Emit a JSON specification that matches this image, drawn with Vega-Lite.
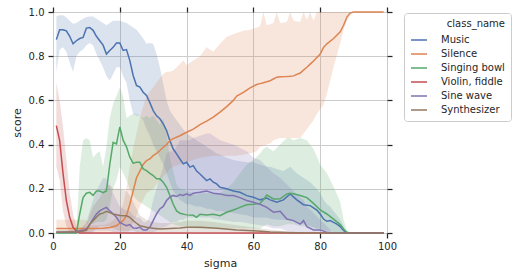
{
"$schema": "https://vega.github.io/schema/vega-lite/v6.json",
"width": 334, "height": 221,
"autosize": {"type": "none"},
"padding": {"left": 53, "top": 12, "right": 134, "bottom": 45},
"config": {
 "font": "DejaVu Sans",
 "view": {"stroke": "#cccccc", "strokeWidth": 1},
 "axis": {"grid": true, "gridColor": "#cccccc", "gridWidth": 1, "domain": false, "tickColor": "#262626", "tickSize": 5, "tickWidth": 1.25, "labelColor": "#262626", "labelFontSize": 10, "labelFont": "DejaVu Sans", "titleFont": "DejaVu Sans", "titleFontSize": 11, "titleColor": "#262626", "titleFontWeight": "normal", "labelPadding": 3, "titlePadding": 6, "labelFlush": false},
 "legend": {"orient": "none", "legendX": 351, "legendY": 1, "fillColor": "white", "strokeColor": "#cccccc", "padding": 6, "cornerRadius": 3, "titleFontSize": 10, "titleFontWeight": "normal", "titleColor": "#262626", "titleAnchor": "end", "labelFontSize": 10, "labelColor": "#262626", "symbolType": "stroke", "symbolStrokeWidth": 1.5, "symbolSize": 256, "labelOffset": 13, "rowPadding": 0, "titlePadding": 2, "symbolOpacity": 1}
},
"data": {"values": [
{"c":"Music","x":1,"y":0.875,"lo":0.73,"hi":0.98},
{"c":"Music","x":2,"y":0.92,"lo":0.83,"hi":0.985},
{"c":"Music","x":3,"y":0.92,"lo":0.84,"hi":0.985},
{"c":"Music","x":4,"y":0.915,"lo":0.82,"hi":0.975},
{"c":"Music","x":5,"y":0.89,"lo":0.77,"hi":0.96},
{"c":"Music","x":6,"y":0.856,"lo":0.73,"hi":0.947},
{"c":"Music","x":7,"y":0.87,"lo":0.8,"hi":0.95},
{"c":"Music","x":8,"y":0.88,"lo":0.82,"hi":0.96},
{"c":"Music","x":9,"y":0.885,"lo":0.83,"hi":0.97},
{"c":"Music","x":10,"y":0.927,"lo":0.85,"hi":0.977},
{"c":"Music","x":11,"y":0.93,"lo":0.86,"hi":0.98},
{"c":"Music","x":12,"y":0.917,"lo":0.85,"hi":0.98},
{"c":"Music","x":13,"y":0.89,"lo":0.81,"hi":0.97},
{"c":"Music","x":14,"y":0.87,"lo":0.78,"hi":0.96},
{"c":"Music","x":15,"y":0.85,"lo":0.75,"hi":0.95},
{"c":"Music","x":16,"y":0.81,"lo":0.71,"hi":0.94},
{"c":"Music","x":17,"y":0.826,"lo":0.69,"hi":0.95},
{"c":"Music","x":18,"y":0.84,"lo":0.72,"hi":0.96},
{"c":"Music","x":19,"y":0.86,"lo":0.75,"hi":0.96},
{"c":"Music","x":20,"y":0.86,"lo":0.75,"hi":0.96},
{"c":"Music","x":21,"y":0.826,"lo":0.71,"hi":0.955},
{"c":"Music","x":22,"y":0.83,"lo":0.68,"hi":0.95},
{"c":"Music","x":23,"y":0.78,"lo":0.6,"hi":0.94},
{"c":"Music","x":24,"y":0.713,"lo":0.54,"hi":0.93},
{"c":"Music","x":25,"y":0.668,"lo":0.53,"hi":0.92},
{"c":"Music","x":26,"y":0.66,"lo":0.53,"hi":0.9},
{"c":"Music","x":27,"y":0.637,"lo":0.51,"hi":0.88},
{"c":"Music","x":28,"y":0.622,"lo":0.47,"hi":0.856},
{"c":"Music","x":29,"y":0.59,"lo":0.44,"hi":0.86},
{"c":"Music","x":30,"y":0.554,"lo":0.4,"hi":0.856},
{"c":"Music","x":31,"y":0.53,"lo":0.37,"hi":0.81},
{"c":"Music","x":32,"y":0.517,"lo":0.34,"hi":0.75},
{"c":"Music","x":33,"y":0.494,"lo":0.31,"hi":0.675},
{"c":"Music","x":34,"y":0.464,"lo":0.27,"hi":0.6},
{"c":"Music","x":35,"y":0.418,"lo":0.23,"hi":0.554},
{"c":"Music","x":36,"y":0.38,"lo":0.19,"hi":0.53},
{"c":"Music","x":37,"y":0.358,"lo":0.17,"hi":0.51},
{"c":"Music","x":38,"y":0.335,"lo":0.15,"hi":0.49},
{"c":"Music","x":39,"y":0.313,"lo":0.14,"hi":0.47},
{"c":"Music","x":40,"y":0.32,"lo":0.13,"hi":0.45},
{"c":"Music","x":41,"y":0.298,"lo":0.13,"hi":0.44},
{"c":"Music","x":42,"y":0.305,"lo":0.125,"hi":0.43},
{"c":"Music","x":43,"y":0.28,"lo":0.12,"hi":0.42},
{"c":"Music","x":44,"y":0.267,"lo":0.12,"hi":0.41},
{"c":"Music","x":45,"y":0.252,"lo":0.115,"hi":0.4},
{"c":"Music","x":46,"y":0.237,"lo":0.11,"hi":0.39},
{"c":"Music","x":47,"y":0.245,"lo":0.11,"hi":0.38},
{"c":"Music","x":48,"y":0.23,"lo":0.105,"hi":0.37},
{"c":"Music","x":49,"y":0.222,"lo":0.1,"hi":0.36},
{"c":"Music","x":50,"y":0.207,"lo":0.1,"hi":0.355},
{"c":"Music","x":52,"y":0.2,"lo":0.095,"hi":0.34},
{"c":"Music","x":54,"y":0.19,"lo":0.09,"hi":0.33},
{"c":"Music","x":56,"y":0.184,"lo":0.085,"hi":0.325},
{"c":"Music","x":58,"y":0.169,"lo":0.08,"hi":0.32},
{"c":"Music","x":60,"y":0.162,"lo":0.07,"hi":0.32},
{"c":"Music","x":62,"y":0.15,"lo":0.07,"hi":0.31},
{"c":"Music","x":64,"y":0.158,"lo":0.07,"hi":0.3},
{"c":"Music","x":65,"y":0.15,"lo":0.065,"hi":0.3},
{"c":"Music","x":67,"y":0.139,"lo":0.06,"hi":0.29},
{"c":"Music","x":69,"y":0.15,"lo":0.06,"hi":0.28},
{"c":"Music","x":71,"y":0.177,"lo":0.06,"hi":0.3},
{"c":"Music","x":73,"y":0.15,"lo":0.05,"hi":0.27},
{"c":"Music","x":75,"y":0.128,"lo":0.04,"hi":0.25},
{"c":"Music","x":77,"y":0.124,"lo":0.03,"hi":0.23},
{"c":"Music","x":79,"y":0.104,"lo":0.02,"hi":0.2},
{"c":"Music","x":80,"y":0.086,"lo":0.02,"hi":0.18},
{"c":"Music","x":81,"y":0.063,"lo":0.01,"hi":0.15},
{"c":"Music","x":82,"y":0.053,"lo":0.01,"hi":0.13},
{"c":"Music","x":83,"y":0.056,"lo":0.01,"hi":0.12},
{"c":"Music","x":84,"y":0.048,"lo":0.005,"hi":0.1},
{"c":"Music","x":85,"y":0.04,"lo":0,"hi":0.08},
{"c":"Music","x":86,"y":0.029,"lo":0,"hi":0.06},
{"c":"Music","x":87,"y":0.011,"lo":0,"hi":0.03},
{"c":"Music","x":88,"y":0,"lo":0,"hi":0},
{"c":"Music","x":99,"y":0,"lo":0,"hi":0},
{"c":"Silence","x":1,"y":0.02,"lo":0,"hi":0.06},
{"c":"Silence","x":10,"y":0.02,"lo":0,"hi":0.06},
{"c":"Silence","x":11,"y":0.02,"lo":0,"hi":0.035},
{"c":"Silence","x":15,"y":0.021,"lo":0,"hi":0.035},
{"c":"Silence","x":17,"y":0.025,"lo":0,"hi":0.045},
{"c":"Silence","x":19,"y":0.033,"lo":0,"hi":0.07},
{"c":"Silence","x":20,"y":0.044,"lo":0,"hi":0.09},
{"c":"Silence","x":21,"y":0.056,"lo":0,"hi":0.13},
{"c":"Silence","x":22,"y":0.079,"lo":0,"hi":0.2},
{"c":"Silence","x":23,"y":0.13,"lo":0.01,"hi":0.3},
{"c":"Silence","x":24,"y":0.19,"lo":0.05,"hi":0.38},
{"c":"Silence","x":25,"y":0.25,"lo":0.08,"hi":0.45},
{"c":"Silence","x":26,"y":0.28,"lo":0.12,"hi":0.52},
{"c":"Silence","x":27,"y":0.31,"lo":0.15,"hi":0.57},
{"c":"Silence","x":28,"y":0.328,"lo":0.18,"hi":0.62},
{"c":"Silence","x":29,"y":0.335,"lo":0.19,"hi":0.64},
{"c":"Silence","x":30,"y":0.35,"lo":0.2,"hi":0.66},
{"c":"Silence","x":31,"y":0.36,"lo":0.22,"hi":0.68},
{"c":"Silence","x":32,"y":0.373,"lo":0.24,"hi":0.7},
{"c":"Silence","x":33,"y":0.388,"lo":0.255,"hi":0.72},
{"c":"Silence","x":34,"y":0.4,"lo":0.27,"hi":0.73},
{"c":"Silence","x":35,"y":0.418,"lo":0.29,"hi":0.73},
{"c":"Silence","x":36,"y":0.427,"lo":0.3,"hi":0.735},
{"c":"Silence","x":38,"y":0.44,"lo":0.31,"hi":0.765},
{"c":"Silence","x":39,"y":0.448,"lo":0.315,"hi":0.78},
{"c":"Silence","x":40,"y":0.456,"lo":0.32,"hi":0.76},
{"c":"Silence","x":42,"y":0.47,"lo":0.33,"hi":0.78},
{"c":"Silence","x":44,"y":0.49,"lo":0.34,"hi":0.8},
{"c":"Silence","x":46,"y":0.506,"lo":0.345,"hi":0.84},
{"c":"Silence","x":48,"y":0.524,"lo":0.35,"hi":0.82},
{"c":"Silence","x":50,"y":0.547,"lo":0.35,"hi":0.856},
{"c":"Silence","x":52,"y":0.572,"lo":0.35,"hi":0.887},
{"c":"Silence","x":54,"y":0.6,"lo":0.35,"hi":0.9},
{"c":"Silence","x":55,"y":0.62,"lo":0.35,"hi":0.905},
{"c":"Silence","x":57,"y":0.636,"lo":0.355,"hi":0.915},
{"c":"Silence","x":59,"y":0.657,"lo":0.36,"hi":0.92},
{"c":"Silence","x":61,"y":0.672,"lo":0.37,"hi":0.93},
{"c":"Silence","x":62,"y":0.676,"lo":0.39,"hi":0.936},
{"c":"Silence","x":63,"y":0.68,"lo":0.395,"hi":1.0},
{"c":"Silence","x":64,"y":0.684,"lo":0.4,"hi":0.94},
{"c":"Silence","x":65,"y":0.689,"lo":0.405,"hi":0.945},
{"c":"Silence","x":66,"y":0.697,"lo":0.42,"hi":0.95},
{"c":"Silence","x":67,"y":0.705,"lo":0.425,"hi":1.0},
{"c":"Silence","x":68,"y":0.707,"lo":0.43,"hi":0.95},
{"c":"Silence","x":70,"y":0.708,"lo":0.43,"hi":0.955},
{"c":"Silence","x":71,"y":0.709,"lo":0.43,"hi":1.0},
{"c":"Silence","x":72,"y":0.711,"lo":0.43,"hi":0.96},
{"c":"Silence","x":74,"y":0.724,"lo":0.43,"hi":0.955},
{"c":"Silence","x":75,"y":0.737,"lo":0.45,"hi":1.0},
{"c":"Silence","x":76,"y":0.75,"lo":0.47,"hi":0.965},
{"c":"Silence","x":77,"y":0.764,"lo":0.49,"hi":1.0},
{"c":"Silence","x":78,"y":0.778,"lo":0.51,"hi":0.96},
{"c":"Silence","x":79,"y":0.794,"lo":0.54,"hi":1.0},
{"c":"Silence","x":80,"y":0.81,"lo":0.56,"hi":1.0},
{"c":"Silence","x":81,"y":0.84,"lo":0.58,"hi":1.0},
{"c":"Silence","x":82,"y":0.856,"lo":0.63,"hi":1.0},
{"c":"Silence","x":84,"y":0.88,"lo":0.75,"hi":1.0},
{"c":"Silence","x":86,"y":0.91,"lo":0.86,"hi":1.0},
{"c":"Silence","x":87,"y":0.94,"lo":0.92,"hi":1.0},
{"c":"Silence","x":88,"y":0.977,"lo":0.96,"hi":1.0},
{"c":"Silence","x":89,"y":0.995,"lo":0.99,"hi":1.0},
{"c":"Silence","x":90,"y":1,"lo":1,"hi":1},
{"c":"Silence","x":99,"y":1,"lo":1,"hi":1},
{"c":"Singing bowl","x":1,"y":0,"lo":0,"hi":0},
{"c":"Singing bowl","x":7,"y":0,"lo":0,"hi":0},
{"c":"Singing bowl","x":8,"y":0.086,"lo":0,"hi":0.3},
{"c":"Singing bowl","x":9,"y":0.16,"lo":0.02,"hi":0.42},
{"c":"Singing bowl","x":10,"y":0.18,"lo":0.04,"hi":0.43},
{"c":"Singing bowl","x":11,"y":0.184,"lo":0.05,"hi":0.42},
{"c":"Singing bowl","x":12,"y":0.17,"lo":0.04,"hi":0.34},
{"c":"Singing bowl","x":13,"y":0.19,"lo":0.05,"hi":0.36},
{"c":"Singing bowl","x":14,"y":0.19,"lo":0.05,"hi":0.37},
{"c":"Singing bowl","x":15,"y":0.183,"lo":0.05,"hi":0.3},
{"c":"Singing bowl","x":16,"y":0.19,"lo":0.06,"hi":0.39},
{"c":"Singing bowl","x":17,"y":0.31,"lo":0.12,"hi":0.52},
{"c":"Singing bowl","x":18,"y":0.41,"lo":0.2,"hi":0.585},
{"c":"Singing bowl","x":19,"y":0.403,"lo":0.24,"hi":0.62},
{"c":"Singing bowl","x":20,"y":0.48,"lo":0.3,"hi":0.66},
{"c":"Singing bowl","x":21,"y":0.42,"lo":0.27,"hi":0.615},
{"c":"Singing bowl","x":22,"y":0.39,"lo":0.24,"hi":0.52},
{"c":"Singing bowl","x":23,"y":0.343,"lo":0.2,"hi":0.53},
{"c":"Singing bowl","x":24,"y":0.316,"lo":0.17,"hi":0.54},
{"c":"Singing bowl","x":25,"y":0.32,"lo":0.15,"hi":0.54},
{"c":"Singing bowl","x":26,"y":0.32,"lo":0.14,"hi":0.53},
{"c":"Singing bowl","x":27,"y":0.29,"lo":0.13,"hi":0.52},
{"c":"Singing bowl","x":28,"y":0.282,"lo":0.12,"hi":0.53},
{"c":"Singing bowl","x":29,"y":0.27,"lo":0.11,"hi":0.52},
{"c":"Singing bowl","x":30,"y":0.26,"lo":0.1,"hi":0.53},
{"c":"Singing bowl","x":31,"y":0.245,"lo":0.09,"hi":0.51},
{"c":"Singing bowl","x":32,"y":0.245,"lo":0.08,"hi":0.49},
{"c":"Singing bowl","x":33,"y":0.23,"lo":0.07,"hi":0.517},
{"c":"Singing bowl","x":34,"y":0.207,"lo":0.06,"hi":0.45},
{"c":"Singing bowl","x":35,"y":0.17,"lo":0.05,"hi":0.34},
{"c":"Singing bowl","x":36,"y":0.13,"lo":0.04,"hi":0.28},
{"c":"Singing bowl","x":37,"y":0.1,"lo":0.035,"hi":0.22},
{"c":"Singing bowl","x":38,"y":0.089,"lo":0.03,"hi":0.2},
{"c":"Singing bowl","x":40,"y":0.082,"lo":0.03,"hi":0.19},
{"c":"Singing bowl","x":42,"y":0.08,"lo":0.025,"hi":0.18},
{"c":"Singing bowl","x":43,"y":0.071,"lo":0.02,"hi":0.17},
{"c":"Singing bowl","x":44,"y":0.085,"lo":0.02,"hi":0.18},
{"c":"Singing bowl","x":46,"y":0.082,"lo":0.02,"hi":0.18},
{"c":"Singing bowl","x":48,"y":0.085,"lo":0.02,"hi":0.18},
{"c":"Singing bowl","x":50,"y":0.078,"lo":0.02,"hi":0.18},
{"c":"Singing bowl","x":52,"y":0.094,"lo":0.02,"hi":0.2},
{"c":"Singing bowl","x":54,"y":0.104,"lo":0.02,"hi":0.23},
{"c":"Singing bowl","x":56,"y":0.116,"lo":0.02,"hi":0.27},
{"c":"Singing bowl","x":58,"y":0.128,"lo":0.02,"hi":0.31},
{"c":"Singing bowl","x":60,"y":0.13,"lo":0.02,"hi":0.33},
{"c":"Singing bowl","x":62,"y":0.134,"lo":0.02,"hi":0.36},
{"c":"Singing bowl","x":63,"y":0.15,"lo":0.03,"hi":0.38},
{"c":"Singing bowl","x":64,"y":0.172,"lo":0.04,"hi":0.39},
{"c":"Singing bowl","x":66,"y":0.154,"lo":0.03,"hi":0.37},
{"c":"Singing bowl","x":68,"y":0.155,"lo":0.03,"hi":0.4},
{"c":"Singing bowl","x":70,"y":0.177,"lo":0.04,"hi":0.43},
{"c":"Singing bowl","x":71,"y":0.18,"lo":0.04,"hi":0.43},
{"c":"Singing bowl","x":72,"y":0.178,"lo":0.04,"hi":0.42},
{"c":"Singing bowl","x":74,"y":0.17,"lo":0.03,"hi":0.43},
{"c":"Singing bowl","x":76,"y":0.16,"lo":0.03,"hi":0.42},
{"c":"Singing bowl","x":78,"y":0.134,"lo":0.02,"hi":0.38},
{"c":"Singing bowl","x":80,"y":0.104,"lo":0.01,"hi":0.31},
{"c":"Singing bowl","x":82,"y":0.086,"lo":0.01,"hi":0.27},
{"c":"Singing bowl","x":84,"y":0.063,"lo":0,"hi":0.21},
{"c":"Singing bowl","x":86,"y":0.038,"lo":0,"hi":0.14},
{"c":"Singing bowl","x":87,"y":0.018,"lo":0,"hi":0.06},
{"c":"Singing bowl","x":88,"y":0.003,"lo":0,"hi":0.01},
{"c":"Singing bowl","x":89,"y":0,"lo":0,"hi":0},
{"c":"Singing bowl","x":99,"y":0,"lo":0,"hi":0},
{"c":"Violin, fiddle","x":1,"y":0.486,"lo":0.3,"hi":0.68},
{"c":"Violin, fiddle","x":2,"y":0.418,"lo":0.24,"hi":0.6},
{"c":"Violin, fiddle","x":3,"y":0.27,"lo":0.1,"hi":0.48},
{"c":"Violin, fiddle","x":4,"y":0.147,"lo":0.03,"hi":0.33},
{"c":"Violin, fiddle","x":5,"y":0.071,"lo":0,"hi":0.18},
{"c":"Violin, fiddle","x":6,"y":0.026,"lo":0,"hi":0.086},
{"c":"Violin, fiddle","x":7,"y":0.008,"lo":0,"hi":0.03},
{"c":"Violin, fiddle","x":8,"y":0,"lo":0,"hi":0.005},
{"c":"Violin, fiddle","x":9,"y":0,"lo":0,"hi":0},
{"c":"Violin, fiddle","x":99,"y":0,"lo":0,"hi":0},
{"c":"Sine wave","x":1,"y":0.003,"lo":0,"hi":0.01},
{"c":"Sine wave","x":7,"y":0.005,"lo":0,"hi":0.01},
{"c":"Sine wave","x":8,"y":0.01,"lo":0,"hi":0.02},
{"c":"Sine wave","x":9,"y":0.012,"lo":0,"hi":0.03},
{"c":"Sine wave","x":10,"y":0.018,"lo":0,"hi":0.05},
{"c":"Sine wave","x":11,"y":0.038,"lo":0,"hi":0.1},
{"c":"Sine wave","x":12,"y":0.063,"lo":0.005,"hi":0.15},
{"c":"Sine wave","x":13,"y":0.086,"lo":0.01,"hi":0.19},
{"c":"Sine wave","x":14,"y":0.1,"lo":0.01,"hi":0.22},
{"c":"Sine wave","x":15,"y":0.109,"lo":0.01,"hi":0.25},
{"c":"Sine wave","x":16,"y":0.116,"lo":0.01,"hi":0.245},
{"c":"Sine wave","x":17,"y":0.1,"lo":0.01,"hi":0.21},
{"c":"Sine wave","x":18,"y":0.086,"lo":0.005,"hi":0.18},
{"c":"Sine wave","x":19,"y":0.071,"lo":0.005,"hi":0.15},
{"c":"Sine wave","x":20,"y":0.048,"lo":0,"hi":0.12},
{"c":"Sine wave","x":21,"y":0.04,"lo":0,"hi":0.11},
{"c":"Sine wave","x":22,"y":0.033,"lo":0,"hi":0.1},
{"c":"Sine wave","x":23,"y":0.038,"lo":0,"hi":0.1},
{"c":"Sine wave","x":24,"y":0.023,"lo":0,"hi":0.08},
{"c":"Sine wave","x":25,"y":0.022,"lo":0,"hi":0.07},
{"c":"Sine wave","x":26,"y":0.026,"lo":0,"hi":0.07},
{"c":"Sine wave","x":27,"y":0.014,"lo":0,"hi":0.05},
{"c":"Sine wave","x":28,"y":0.014,"lo":0,"hi":0.05},
{"c":"Sine wave","x":29,"y":0.026,"lo":0,"hi":0.08},
{"c":"Sine wave","x":30,"y":0.056,"lo":0.005,"hi":0.15},
{"c":"Sine wave","x":31,"y":0.086,"lo":0.01,"hi":0.2},
{"c":"Sine wave","x":32,"y":0.109,"lo":0.02,"hi":0.25},
{"c":"Sine wave","x":33,"y":0.12,"lo":0.025,"hi":0.3},
{"c":"Sine wave","x":34,"y":0.147,"lo":0.03,"hi":0.36},
{"c":"Sine wave","x":35,"y":0.162,"lo":0.04,"hi":0.37},
{"c":"Sine wave","x":36,"y":0.17,"lo":0.05,"hi":0.37},
{"c":"Sine wave","x":37,"y":0.165,"lo":0.05,"hi":0.39},
{"c":"Sine wave","x":38,"y":0.174,"lo":0.06,"hi":0.42},
{"c":"Sine wave","x":39,"y":0.17,"lo":0.06,"hi":0.42},
{"c":"Sine wave","x":40,"y":0.177,"lo":0.07,"hi":0.42},
{"c":"Sine wave","x":41,"y":0.17,"lo":0.07,"hi":0.42},
{"c":"Sine wave","x":42,"y":0.18,"lo":0.07,"hi":0.43},
{"c":"Sine wave","x":44,"y":0.184,"lo":0.07,"hi":0.44},
{"c":"Sine wave","x":46,"y":0.19,"lo":0.07,"hi":0.45},
{"c":"Sine wave","x":47,"y":0.185,"lo":0.07,"hi":0.45},
{"c":"Sine wave","x":48,"y":0.18,"lo":0.065,"hi":0.44},
{"c":"Sine wave","x":50,"y":0.177,"lo":0.06,"hi":0.42},
{"c":"Sine wave","x":52,"y":0.17,"lo":0.055,"hi":0.41},
{"c":"Sine wave","x":54,"y":0.17,"lo":0.05,"hi":0.4},
{"c":"Sine wave","x":56,"y":0.16,"lo":0.05,"hi":0.385},
{"c":"Sine wave","x":58,"y":0.147,"lo":0.045,"hi":0.37},
{"c":"Sine wave","x":60,"y":0.139,"lo":0.04,"hi":0.34},
{"c":"Sine wave","x":62,"y":0.13,"lo":0.035,"hi":0.33},
{"c":"Sine wave","x":64,"y":0.116,"lo":0.03,"hi":0.3},
{"c":"Sine wave","x":66,"y":0.094,"lo":0.02,"hi":0.27},
{"c":"Sine wave","x":68,"y":0.098,"lo":0.02,"hi":0.25},
{"c":"Sine wave","x":70,"y":0.063,"lo":0.01,"hi":0.22},
{"c":"Sine wave","x":72,"y":0.056,"lo":0.005,"hi":0.19},
{"c":"Sine wave","x":74,"y":0.04,"lo":0,"hi":0.16},
{"c":"Sine wave","x":75,"y":0.056,"lo":0,"hi":0.15},
{"c":"Sine wave","x":76,"y":0.029,"lo":0,"hi":0.12},
{"c":"Sine wave","x":78,"y":0.014,"lo":0,"hi":0.09},
{"c":"Sine wave","x":80,"y":0.014,"lo":0,"hi":0.06},
{"c":"Sine wave","x":82,"y":0.003,"lo":0,"hi":0.03},
{"c":"Sine wave","x":84,"y":0,"lo":0,"hi":0},
{"c":"Sine wave","x":99,"y":0,"lo":0,"hi":0},
{"c":"Synthesizer","x":1,"y":0.003,"lo":0,"hi":0.01},
{"c":"Synthesizer","x":8,"y":0.006,"lo":0,"hi":0.015},
{"c":"Synthesizer","x":10,"y":0.012,"lo":0,"hi":0.04},
{"c":"Synthesizer","x":11,"y":0.04,"lo":0.005,"hi":0.08},
{"c":"Synthesizer","x":12,"y":0.056,"lo":0.01,"hi":0.12},
{"c":"Synthesizer","x":13,"y":0.071,"lo":0.02,"hi":0.14},
{"c":"Synthesizer","x":14,"y":0.086,"lo":0.03,"hi":0.16},
{"c":"Synthesizer","x":15,"y":0.09,"lo":0.03,"hi":0.19},
{"c":"Synthesizer","x":16,"y":0.098,"lo":0.03,"hi":0.21},
{"c":"Synthesizer","x":17,"y":0.092,"lo":0.03,"hi":0.22},
{"c":"Synthesizer","x":18,"y":0.086,"lo":0.02,"hi":0.2},
{"c":"Synthesizer","x":19,"y":0.083,"lo":0.015,"hi":0.2},
{"c":"Synthesizer","x":20,"y":0.079,"lo":0.01,"hi":0.2},
{"c":"Synthesizer","x":22,"y":0.078,"lo":0.01,"hi":0.19},
{"c":"Synthesizer","x":23,"y":0.071,"lo":0.01,"hi":0.17},
{"c":"Synthesizer","x":24,"y":0.056,"lo":0.01,"hi":0.14},
{"c":"Synthesizer","x":25,"y":0.044,"lo":0.005,"hi":0.11},
{"c":"Synthesizer","x":26,"y":0.033,"lo":0.005,"hi":0.08},
{"c":"Synthesizer","x":28,"y":0.026,"lo":0.005,"hi":0.06},
{"c":"Synthesizer","x":30,"y":0.021,"lo":0.005,"hi":0.05},
{"c":"Synthesizer","x":32,"y":0.018,"lo":0.005,"hi":0.045},
{"c":"Synthesizer","x":35,"y":0.02,"lo":0.005,"hi":0.045},
{"c":"Synthesizer","x":38,"y":0.023,"lo":0.005,"hi":0.05},
{"c":"Synthesizer","x":40,"y":0.026,"lo":0.005,"hi":0.055},
{"c":"Synthesizer","x":44,"y":0.026,"lo":0.005,"hi":0.055},
{"c":"Synthesizer","x":48,"y":0.023,"lo":0.005,"hi":0.05},
{"c":"Synthesizer","x":50,"y":0.02,"lo":0.004,"hi":0.045},
{"c":"Synthesizer","x":55,"y":0.014,"lo":0.003,"hi":0.035},
{"c":"Synthesizer","x":60,"y":0.01,"lo":0.002,"hi":0.025},
{"c":"Synthesizer","x":65,"y":0.005,"lo":0,"hi":0.015},
{"c":"Synthesizer","x":70,"y":0.002,"lo":0,"hi":0.008},
{"c":"Synthesizer","x":75,"y":0,"lo":0,"hi":0.002},
{"c":"Synthesizer","x":99,"y":0,"lo":0,"hi":0}
]},
"layer": [
 {"mark": {"type": "area", "fillOpacity": 0.2, "strokeWidth": 0},
  "encoding": {
   "x": {"field": "x", "type": "quantitative", "scale": {"domain": [0, 100], "nice": false}, "axis": {"orient": "bottom", "values": [0, 20, 40, 60, 80, 100], "format": "d", "title": "sigma"}},
   "y": {"field": "lo", "type": "quantitative", "scale": {"domain": [0, 1], "nice": false}, "axis": {"orient": "left", "values": [0, 0.2, 0.4, 0.6, 0.8, 1.0], "format": ".1f", "title": "score", "labelPadding": 4}},
   "y2": {"field": "hi"},
   "color": {"field": "c", "type": "nominal", "title": "class_name", "scale": {"domain": ["Music", "Silence", "Singing bowl", "Violin, fiddle", "Sine wave", "Synthesizer"], "range": ["#4c72b0", "#dd8452", "#55a868", "#c44e52", "#8172b3", "#937860"]}}
  }},
 {"mark": {"type": "line", "strokeWidth": 1.5},
  "encoding": {
   "x": {"field": "x", "type": "quantitative", "axis": {"orient": "top", "values": [0, 20, 40, 60, 80, 100], "labels": false, "grid": false, "title": null}},
   "y": {"field": "y", "type": "quantitative", "axis": {"orient": "right", "values": [0, 0.2, 0.4, 0.6, 0.8, 1.0], "labels": false, "grid": false, "title": null}},
   "color": {"field": "c", "type": "nominal", "title": "class_name"}
  }}
],
"resolve": {"axis": {"x": "independent", "y": "independent"}}
}
